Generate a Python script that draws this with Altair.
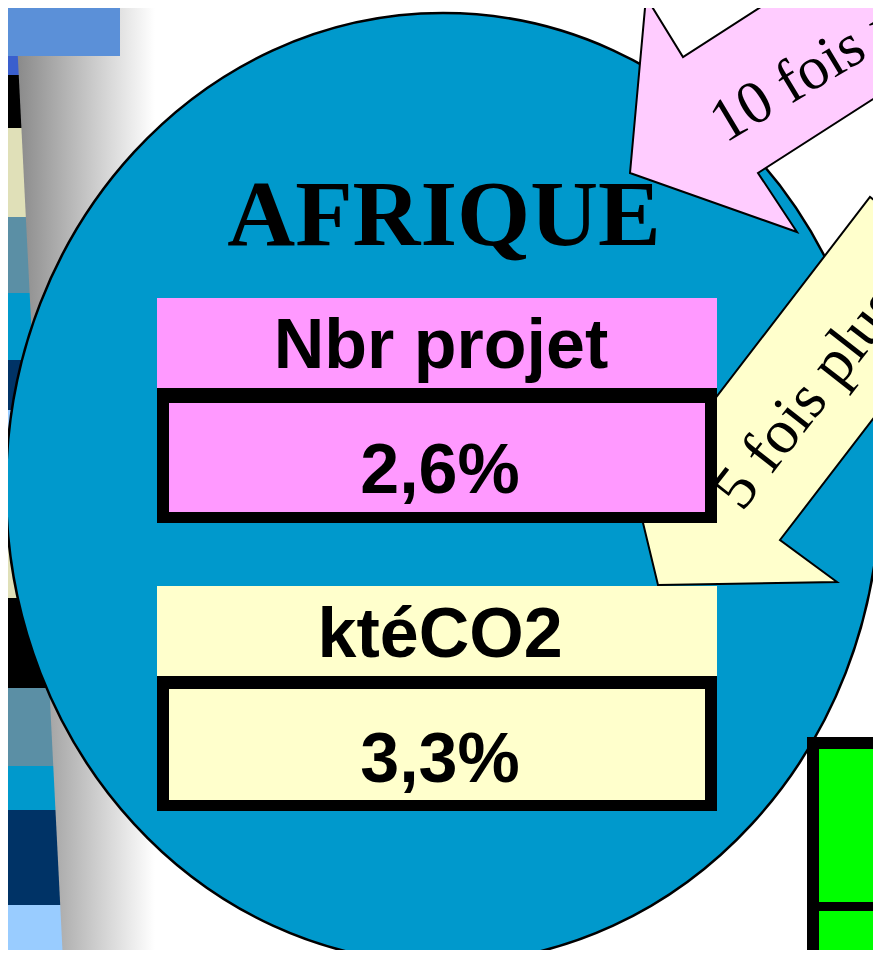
import altair as alt
import pandas as pd

# ---------------- content (text values) ----------------
region_title = ["AFRIQUE"]
metric_labels = ["Nbr projet", "ktéCO2"]
metric_values = ["2,6%", "3,3%"]
arrow_labels = ["10 fois plus", "5 fois plus"]

# ---------------- geometry (page pixel coordinates) ----------------
strip_top = [56, 75, 128, 217, 293, 360, 410, 472, 547, 598, 688, 766, 810, 905]
strip_bottom = [75, 128, 217, 293, 360, 410, 472, 547, 598, 688, 766, 810, 905, 961]
strip_colors = ["#3a5fcd", "#000000", "#e0e0b8", "#5b8fa5", "#0099cc", "#003366", "#99ccff",
                "#3a5fcd", "#e0e0b8", "#000000", "#5b8fa5", "#0099cc", "#003366", "#99ccff"]

panel_y = [0, 961]
panel_left = [15, 63]
panel_right = [200, 248]

ellipse_center = [443, 488]
ellipse_radii = [437, 475]

pink_arrow = [(630, 173), (797, 232), (758, 173), (1010, 11), (935, -105), (683, 57), (646, -3)]
yellow_arrow = [(658, 585), (837, 582), (780, 540), (979, 281), (870, 197), (671, 456), (616, 411)]

# boxes: x1, x2, y1, y2, colour
box_x1 = [0, 157, 157, 169, 157, 157, 169, 807, 819, 819]
box_x2 = [120, 717, 717, 705, 717, 717, 705, 900, 900, 900]
box_y1 = [0, 298, 388, 403, 586, 676, 689, 737, 749, 911]
box_y2 = [56, 388, 523, 512, 676, 811, 800, 970, 902, 970]
box_col = ["#5b90d8", "#ff99ff", "#000000", "#ff99ff", "#ffffcc", "#000000", "#ffffcc",
           "#000000", "#00ff00", "#00ff00"]

# ---------------- view mapping ----------------
W, H = 865, 942
X0, Y0 = 8, 8
SX = alt.Scale(domain=[X0, X0 + W], nice=False, zero=False)
SY = alt.Scale(domain=[Y0, Y0 + H], nice=False, zero=False, reverse=True)


def X(f):
    return alt.X(f, type="quantitative", scale=SX, axis=None)


def Y(f):
    return alt.Y(f, type="quantitative", scale=SY, axis=None)


def poly_layer(verts, fill, stroke="black", sw=2):
    ax, ay = verts[0]
    d = "M " + " L ".join(f"{x - ax:.1f} {y - ay:.1f}" for x, y in verts) + " Z"
    df = pd.DataFrame({"x": [ax], "y": [ay]})
    return alt.Chart(df).mark_point(
        shape=d, size=4, filled=True, fill=fill, stroke=stroke, strokeWidth=sw,
        opacity=1, fillOpacity=1, strokeOpacity=1
    ).encode(x=X("x"), y=Y("y"))


# strip
strip_df = pd.DataFrame({"x1": 0, "x2": 70, "y1": strip_top, "y2": strip_bottom, "c": strip_colors})
strip = alt.Chart(strip_df).mark_rect().encode(
    x=X("x1"), x2="x2", y=Y("y1"), y2="y2", color=alt.Color("c:N", scale=None)
)

# gradient panel
panel_df = pd.DataFrame({"y": panel_y, "xl": panel_left, "xr": panel_right})
panel = alt.Chart(panel_df).mark_area(
    orient="horizontal",
    color=alt.Gradient(
        gradient="linear",
        stops=[alt.GradientStop(color="#888888", offset=0),
               alt.GradientStop(color="#ffffff", offset=0.6)],
        x1=0, x2=1, y1=0, y2=0,
    ),
).encode(y=Y("y"), x=X("xl"), x2="xr")

# rect boxes
box_df = pd.DataFrame({"x1": box_x1, "x2": box_x2, "y1": box_y1, "y2": box_y2, "c": box_col})
logo = alt.Chart(box_df.iloc[:1]).mark_rect().encode(
    x=X("x1"), x2="x2", y=Y("y1"), y2="y2", color=alt.Color("c:N", scale=None)
)
boxes = alt.Chart(box_df.iloc[1:7]).mark_rect().encode(
    x=X("x1"), x2="x2", y=Y("y1"), y2="y2", color=alt.Color("c:N", scale=None)
)
green = alt.Chart(box_df.iloc[7:]).mark_rect().encode(
    x=X("x1"), x2="x2", y=Y("y1"), y2="y2", color=alt.Color("c:N", scale=None)
)

# ellipse
rx, ry = ellipse_radii
k = ry / rx
c = 0.5523
ell_path = (f"M 1 0 C 1 {c*k:.4f} {c:.4f} {k:.4f} 0 {k:.4f} "
            f"C {-c:.4f} {k:.4f} -1 {c*k:.4f} -1 0 "
            f"C -1 {-c*k:.4f} {-c:.4f} {-k:.4f} 0 {-k:.4f} "
            f"C {c:.4f} {-k:.4f} 1 {-c*k:.4f} 1 0 Z")
ell_df = pd.DataFrame({"x": [ellipse_center[0]], "y": [ellipse_center[1]]})
ellipse = alt.Chart(ell_df).mark_point(
    shape=ell_path, size=(2 * rx) ** 2, filled=True, fill="#0099cc", stroke="black",
    strokeWidth=2.5, opacity=1, fillOpacity=1, strokeOpacity=1
).encode(x=X("x"), y=Y("y"))

pink = poly_layer(pink_arrow, "#ffccff")
yellow = poly_layer(yellow_arrow, "#ffffcc")

# texts
title_df = pd.DataFrame({"t": region_title, "x": [444], "y": [245]})
title = alt.Chart(title_df).mark_text(
    font="Liberation Serif", fontWeight="bold", fontSize=94, baseline="alphabetic", align="center",
    color="black"
).encode(x=X("x"), y=Y("y"), text="t:N")

lab_df = pd.DataFrame({
    "t": [metric_labels[0], metric_values[0], metric_labels[1], metric_values[1]],
    "x": [441, 440, 440, 440],
    "y": [368, 493, 657, 782],
})
labels = alt.Chart(lab_df).mark_text(
    font="Liberation Sans", fontWeight="bold", fontSize=70, baseline="alphabetic", align="center",
    color="black"
).encode(x=X("x"), y=Y("y"), text="t:N")

a1_df = pd.DataFrame({"t": [arrow_labels[0]], "x": [716], "y": [128]})
a1 = alt.Chart(a1_df).mark_text(
    font="Liberation Serif", fontSize=61, angle=329, align="left", baseline="middle", color="black"
).encode(x=X("x"), y=Y("y"), text="t:N")

a2_df = pd.DataFrame({"t": [arrow_labels[1]], "x": [727], "y": [501]})
a2 = alt.Chart(a2_df).mark_text(
    font="Liberation Serif", fontSize=63, angle=308, align="left", baseline="middle", color="black"
).encode(x=X("x"), y=Y("y"), text="t:N")

chart = alt.layer(
    strip, panel, logo, ellipse, pink, a1, yellow, a2, boxes, title, labels, green
).properties(
    width=W, height=H, padding=0, background="white",
    autosize=alt.AutoSizeParams(type="none")
).configure_view(stroke=None)

chart.save("out.html", embed_options={"renderer": "svg", "actions": False})
